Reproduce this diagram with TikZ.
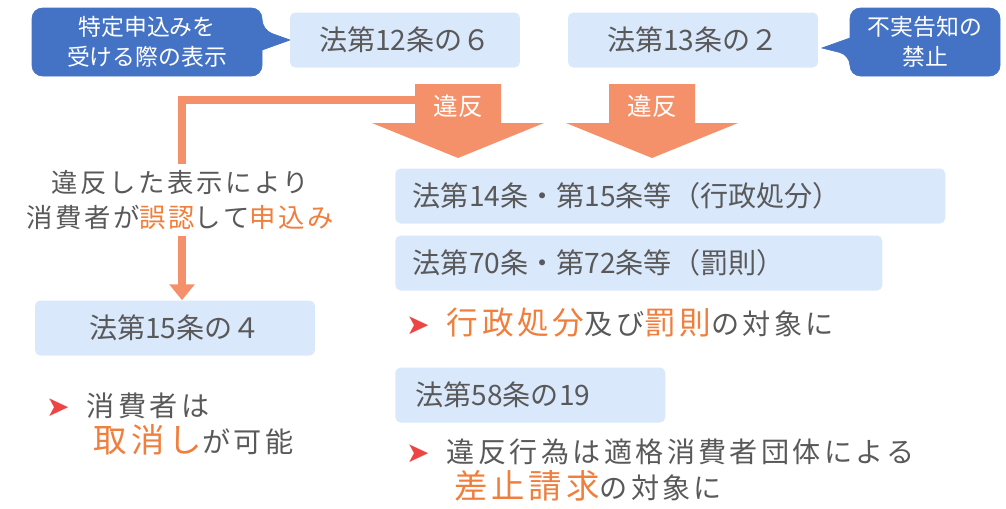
\documentclass[tikz,border=0pt]{standalone}
\usepackage{fontspec}
\setmainfont{Noto Sans CJK JP}
\usetikzlibrary{arrows.meta,positioning}
\definecolor{boxblue}{HTML}{DAE8FC}
\definecolor{darkblue}{HTML}{4472C4}
\definecolor{arrorange}{HTML}{F4916A}
\definecolor{txtorange}{HTML}{F07E3C}
\definecolor{bulred}{HTML}{EE4444}
\definecolor{txtgray}{HTML}{595959}
\tikzset{
  law/.style={fill=boxblue, rounded corners=3pt, minimum height=1.1cm, inner sep=0pt,
    font=\fontsize{16}{19}\selectfont, text=txtgray},
  note/.style={anchor=west, text=txtgray, font=\fontsize{16}{20}\selectfont\addfontfeatures{LetterSpace=12}},
  hl/.style={text=txtorange}
}
\newcommand{\bul}{\textcolor{bulred}{\fontspec{DejaVu Sans}➤}\hspace{0.6em}}
\begin{document}
\begin{tikzpicture}[x=0.02cm,y=-0.02cm]
  \useasboundingbox (0,0) rectangle (1006,508);
  % callouts
  \filldraw[darkblue, rounded corners=6pt] (32,8) -- (262,8) -- (262,30) [sharp corners]-- (290,40) -- (262,50) [rounded corners=6pt]-- (262,76) -- (32,76) -- cycle;
  \node[text=white, align=center, font=\fontsize{13}{17}\selectfont] (c1) at (147,42) {特定申込みを\\受ける際の表示};
  \filldraw[darkblue, rounded corners=6pt] (850,8) -- (1000,8) -- (1000,76) -- (850,76) -- (850,55) [sharp corners]-- (822,48) -- (850,38) [rounded corners=6pt]-- cycle;
  \node[text=white, align=center, font=\fontsize{13}{17}\selectfont] (c2) at (925,42) {不実告知の\\禁止};
  % top boxes
  \node[law, minimum width=4.6cm] (l126) at (405,40) {法第12条の６};
  \node[law, minimum width=5cm] (l132) at (693,40) {法第13条の２};
  % block arrows
  \foreach \cx/\nm in {458/a1, 652/a2}{
    \fill[arrorange] (\cx-43,84) -- (\cx+43,84) -- (\cx+43,123) -- (\cx+86,123) -- (\cx,158) -- (\cx-86,123) -- (\cx-43,123) -- cycle;
    \node[text=white, font=\fontsize{14}{17}\selectfont] (\nm) at (\cx,106) {違反};
  }
  % middle boxes
  \node[law, minimum width=11cm, anchor=west, text width=10.3cm] (l1415) at (395,196) {法第14条・第15条等（行政処分）};
  \node[law, minimum width=9.74cm, anchor=west, text width=9.04cm] (l7072) at (395,263) {法第70条・第72条等（罰則）};
  \node[note] (t1) at (400,323) {\bul\textcolor{txtorange}{\fontsize{18}{20}\selectfont 行政処分}及び\textcolor{txtorange}{\fontsize{18}{20}\selectfont 罰則}の対象に};
  \node[law, minimum width=5.6cm] (l154) at (175,328) {法第15条の４};
  \node[law, minimum width=5.4cm, anchor=west, text width=4.6cm] (l5819) at (395,395) {法第58条の19};
  \node[note, align=left] (t2) at (40,424) {\bul 消費者は\\\hspace{1.7em}\textcolor{txtorange}{\fontsize{19}{22}\selectfont 取消し}が可能};
  \node[note, align=left] (t3) at (400,470) {\bul 違反行為は適格消費者団体による\\\hspace{1.7em}\textcolor{txtorange}{\fontsize{19}{22}\selectfont 差止請求}の対象に};
  % left connector
  \coordinate (start) at (420,100);
  \coordinate (corner) at (182,100);
  \draw[arrorange, line width=4.5pt, -{Triangle[length=9pt,width=14pt]}] (start) -- (corner) -- (l154.north -| corner);
  \node[text=txtgray, align=center, font=\fontsize{15}{20}\selectfont\addfontfeatures{LetterSpace=10}, fill=white] (t0) at (180,200) {違反した表示により\\消費者が\textcolor{txtorange}{誤認}して\textcolor{txtorange}{申込み}};
\end{tikzpicture}
\end{document}
